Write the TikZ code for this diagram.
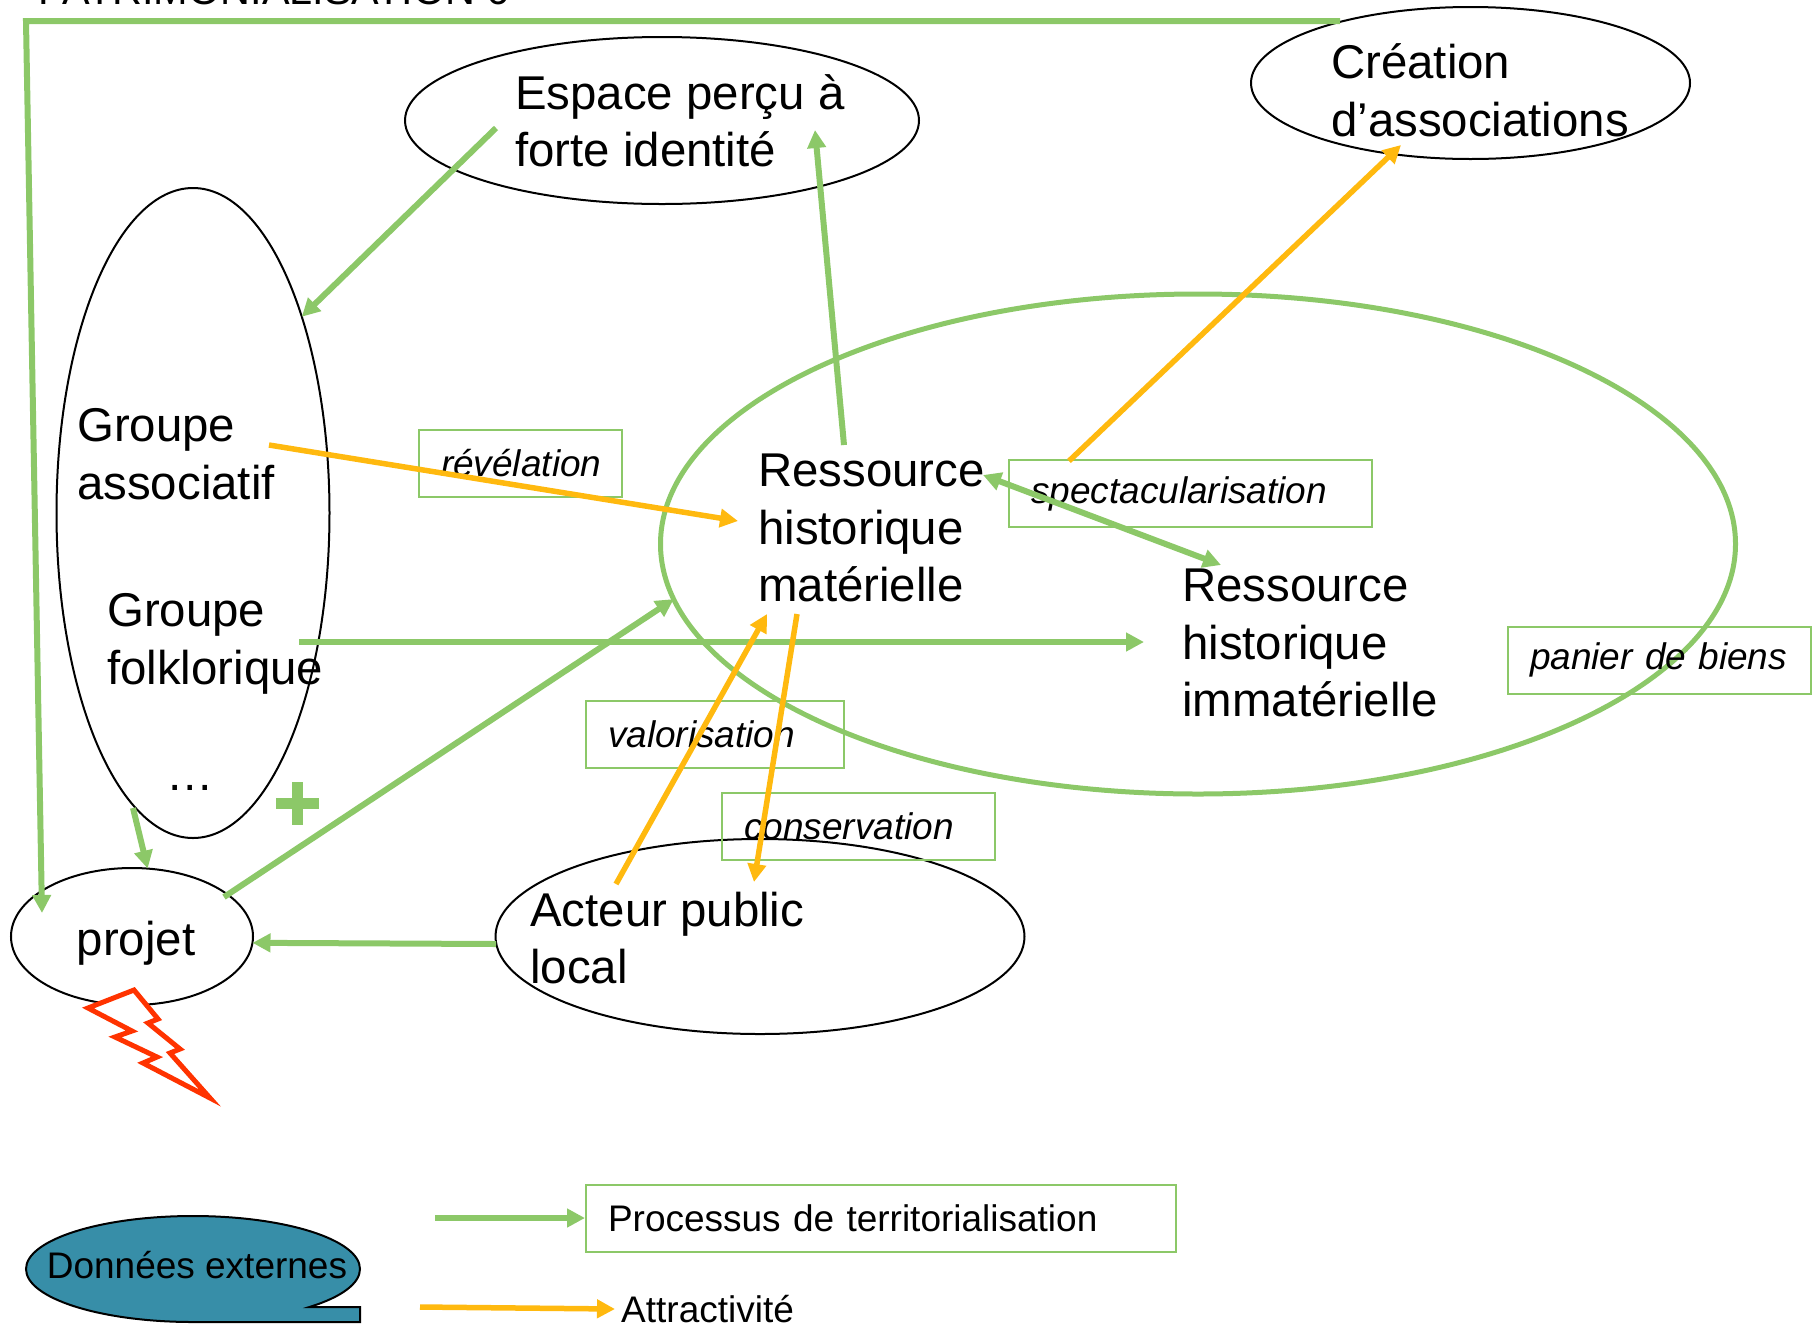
\documentclass[tikz,border=0pt]{standalone}
\usepackage{fontspec}
\setmainfont{Liberation Sans}
\usepackage{xcolor}
\usetikzlibrary{arrows.meta}
\usetikzlibrary{shapes.geometric}
\definecolor{terrgreen}{HTML}{8CC868}
\definecolor{attrorange}{HTML}{FFB90F}
\definecolor{extblue}{HTML}{378EA8}
\definecolor{boltred}{HTML}{FF3300}
\tikzset{
    blob/.style={shape=ellipse, draw=black, line width=2pt, inner sep=0pt, outer sep=0pt},
    bigtext/.style={inner sep=0pt, align=left, anchor=west, font=\fontsize{47.4}{57.5}\selectfont},
    labelbox/.style={draw=terrgreen, line width=2pt, inner xsep=22pt, minimum height=67pt, align=left, font=\fontsize{37}{44}\selectfont},
    terr/.style={draw=terrgreen, line width=6pt, -{Triangle[length=18pt,width=18pt]}},
    attr/.style={draw=attrorange, line width=5.5pt, -{Triangle[length=18pt,width=18pt]}}}

\begin{document}
\begin{tikzpicture}[x=1pt, y=-1pt]

            \useasboundingbox (0,0) rectangle (1820,1326);

            \node[blob, minimum width=514pt, minimum height=167pt] (espace) at (662,120.5) {};
            \node[blob, minimum width=439pt, minimum height=152pt] (creation) at (1470.5,83) {};
            \node[blob, minimum width=273pt, minimum height=650pt] (groupe) at (193,513) {};
            \node[blob, draw=terrgreen, line width=5pt, minimum width=1075pt, minimum height=500pt] (panier) at (1198,544) {};
            \node[blob, minimum width=242pt, minimum height=137pt] (projet) at (132,936.5) {};
            \node[blob, minimum width=529pt, minimum height=195pt] (acteur) at (760,936.5) {};

            \node[inner sep=0pt, anchor=base west, font=\fontsize{41.4}{50}\selectfont] (titre) at (38,4) {PATRIMONIALISATION 6};
            \node[bigtext] (espacetxt) at (515,121) {Espace perçu à\\forte identité};
            \node[bigtext] (creationtxt) at (1331,90.5) {Création\\d’associations};
            \node[bigtext] (assoctxt) at (77,454) {Groupe\\associatif};
            \node[bigtext] (folktxt) at (107,644) {Groupe\\folklorique};
            \node[bigtext, anchor=base] (dots) at (190,790) {…};
            \node[bigtext] (materielle) at (758,528) {Ressource\\historique\\matérielle};
            \node[bigtext] (immaterielle) at (1182,643) {Ressource\\historique\\immatérielle};
            \node[bigtext] (acteurtxt) at (530,938) {Acteur public\\local};
            \node[bigtext, anchor=base] (projettxt) at (136,955) {projet};

            \node[labelbox, text width=159pt, font=\fontsize{37}{44}\selectfont\itshape] (revelation) at (520.5,463.5) {révélation};
            \node[labelbox, text width=319pt, font=\fontsize{37}{44}\selectfont\itshape] (spectacle) at (1190.5,493.5) {spectacularisation};
            \node[labelbox, text width=259pt, font=\fontsize{37}{44}\selectfont\itshape] (biens) at (1659.5,660) {panier de biens};
            \node[labelbox, text width=214pt, font=\fontsize{37}{44}\selectfont\itshape] (valorisation) at (715,734) {valorisation};
            \node[labelbox, text width=229pt, font=\fontsize{37}{44}\selectfont\itshape] (conservation) at (858.5,826) {conservation};
            \node[labelbox, text width=546pt] (legterr) at (881,1218) {Processus de territorialisation};
            \node[bigtext, inner sep=6pt, font=\fontsize{37}{44}\selectfont] (legattr) at (615,1309) {Attractivité};

            \coordinate (topstart) at (1340,21);
            \coordinate (topcorner) at (26,21);
            \coordinate (projetin) at (42,913);
            \coordinate (espaceout) at (496,128);
            \coordinate (materielletop) at (844,445);
            \coordinate (espacein) at (815,130);
            \coordinate (assocout) at (269,445);
            \coordinate (materiellein) at (738,521);
            \coordinate (spectacleout) at (1069,461);
            \coordinate (creationin) at (1401,145);
            \coordinate (doubleleft) at (983,475);
            \coordinate (doubleright) at (1221,565);
            \coordinate (folkout) at (299,642);
            \coordinate (folkin) at (1144,642);
            \coordinate (projetout) at (224,897);
            \coordinate (acteurup) at (616,884);
            \coordinate (materiellelow) at (767,614);
            \coordinate (materielledown) at (797,614);
            \coordinate (acteurin) at (754,882);
            \coordinate (groupeout) at (133,808);
            \coordinate (acteurout) at (496,944);
            \coordinate (legstart) at (435,1218);
            \coordinate (attrstart) at (420,1307);

            \draw[terr] (topstart) -- (topcorner) -- (projetin);
            \draw[terr] (espaceout) -- (groupe.61);
            \draw[terr] (materielletop) -- (espacein);
            \draw[attr] (assocout) -- (materiellein);
            \draw[attr] (spectacleout) -- (creationin);
            \draw[terr, {Triangle[length=18pt,width=18pt]}-{Triangle[length=18pt,width=18pt]}] (doubleleft) -- (doubleright);
            \draw[terr] (folkout) -- (folkin);
            \draw[terr] (projetout) -- (panier.186);
            \draw[attr] (acteurup) -- (materiellelow);
            \draw[attr] (materielledown) -- (acteurin);
            \draw[terr] (groupeout) -- (projet.77);
            \draw[terr] (acteurout) -- (projet.-3.5);
            \draw[terr] (legstart) -- (legterr.west);
            \draw[attr] (attrstart) -- (legattr.west);

            \draw[terrgreen, line width=11pt] (276,803) -- (319,803);
            \draw[terrgreen, line width=11pt] (297.5,782) -- (297.5,825);

            \draw[boltred, fill=white, line width=5pt, miter limit=20] (134,990) -- (158,1019) -- (148,1023) -- (180,1049) -- (170,1053) -- (210,1098) -- (143,1063) -- (157,1057) -- (115,1037) -- (132,1031) -- (88,1008) -- cycle;

            \draw[black, fill=extblue, line width=2pt] (360,1322) -- (193,1322) arc[start angle=-90, end angle=-405.8, x radius=167pt, y radius=53pt] -- (360,1307) -- cycle;
            \node[inner sep=0pt, font=\fontsize{37}{44}\selectfont] (externes) at (197,1265) {Données externes};

        \end{tikzpicture}
\end{document}
